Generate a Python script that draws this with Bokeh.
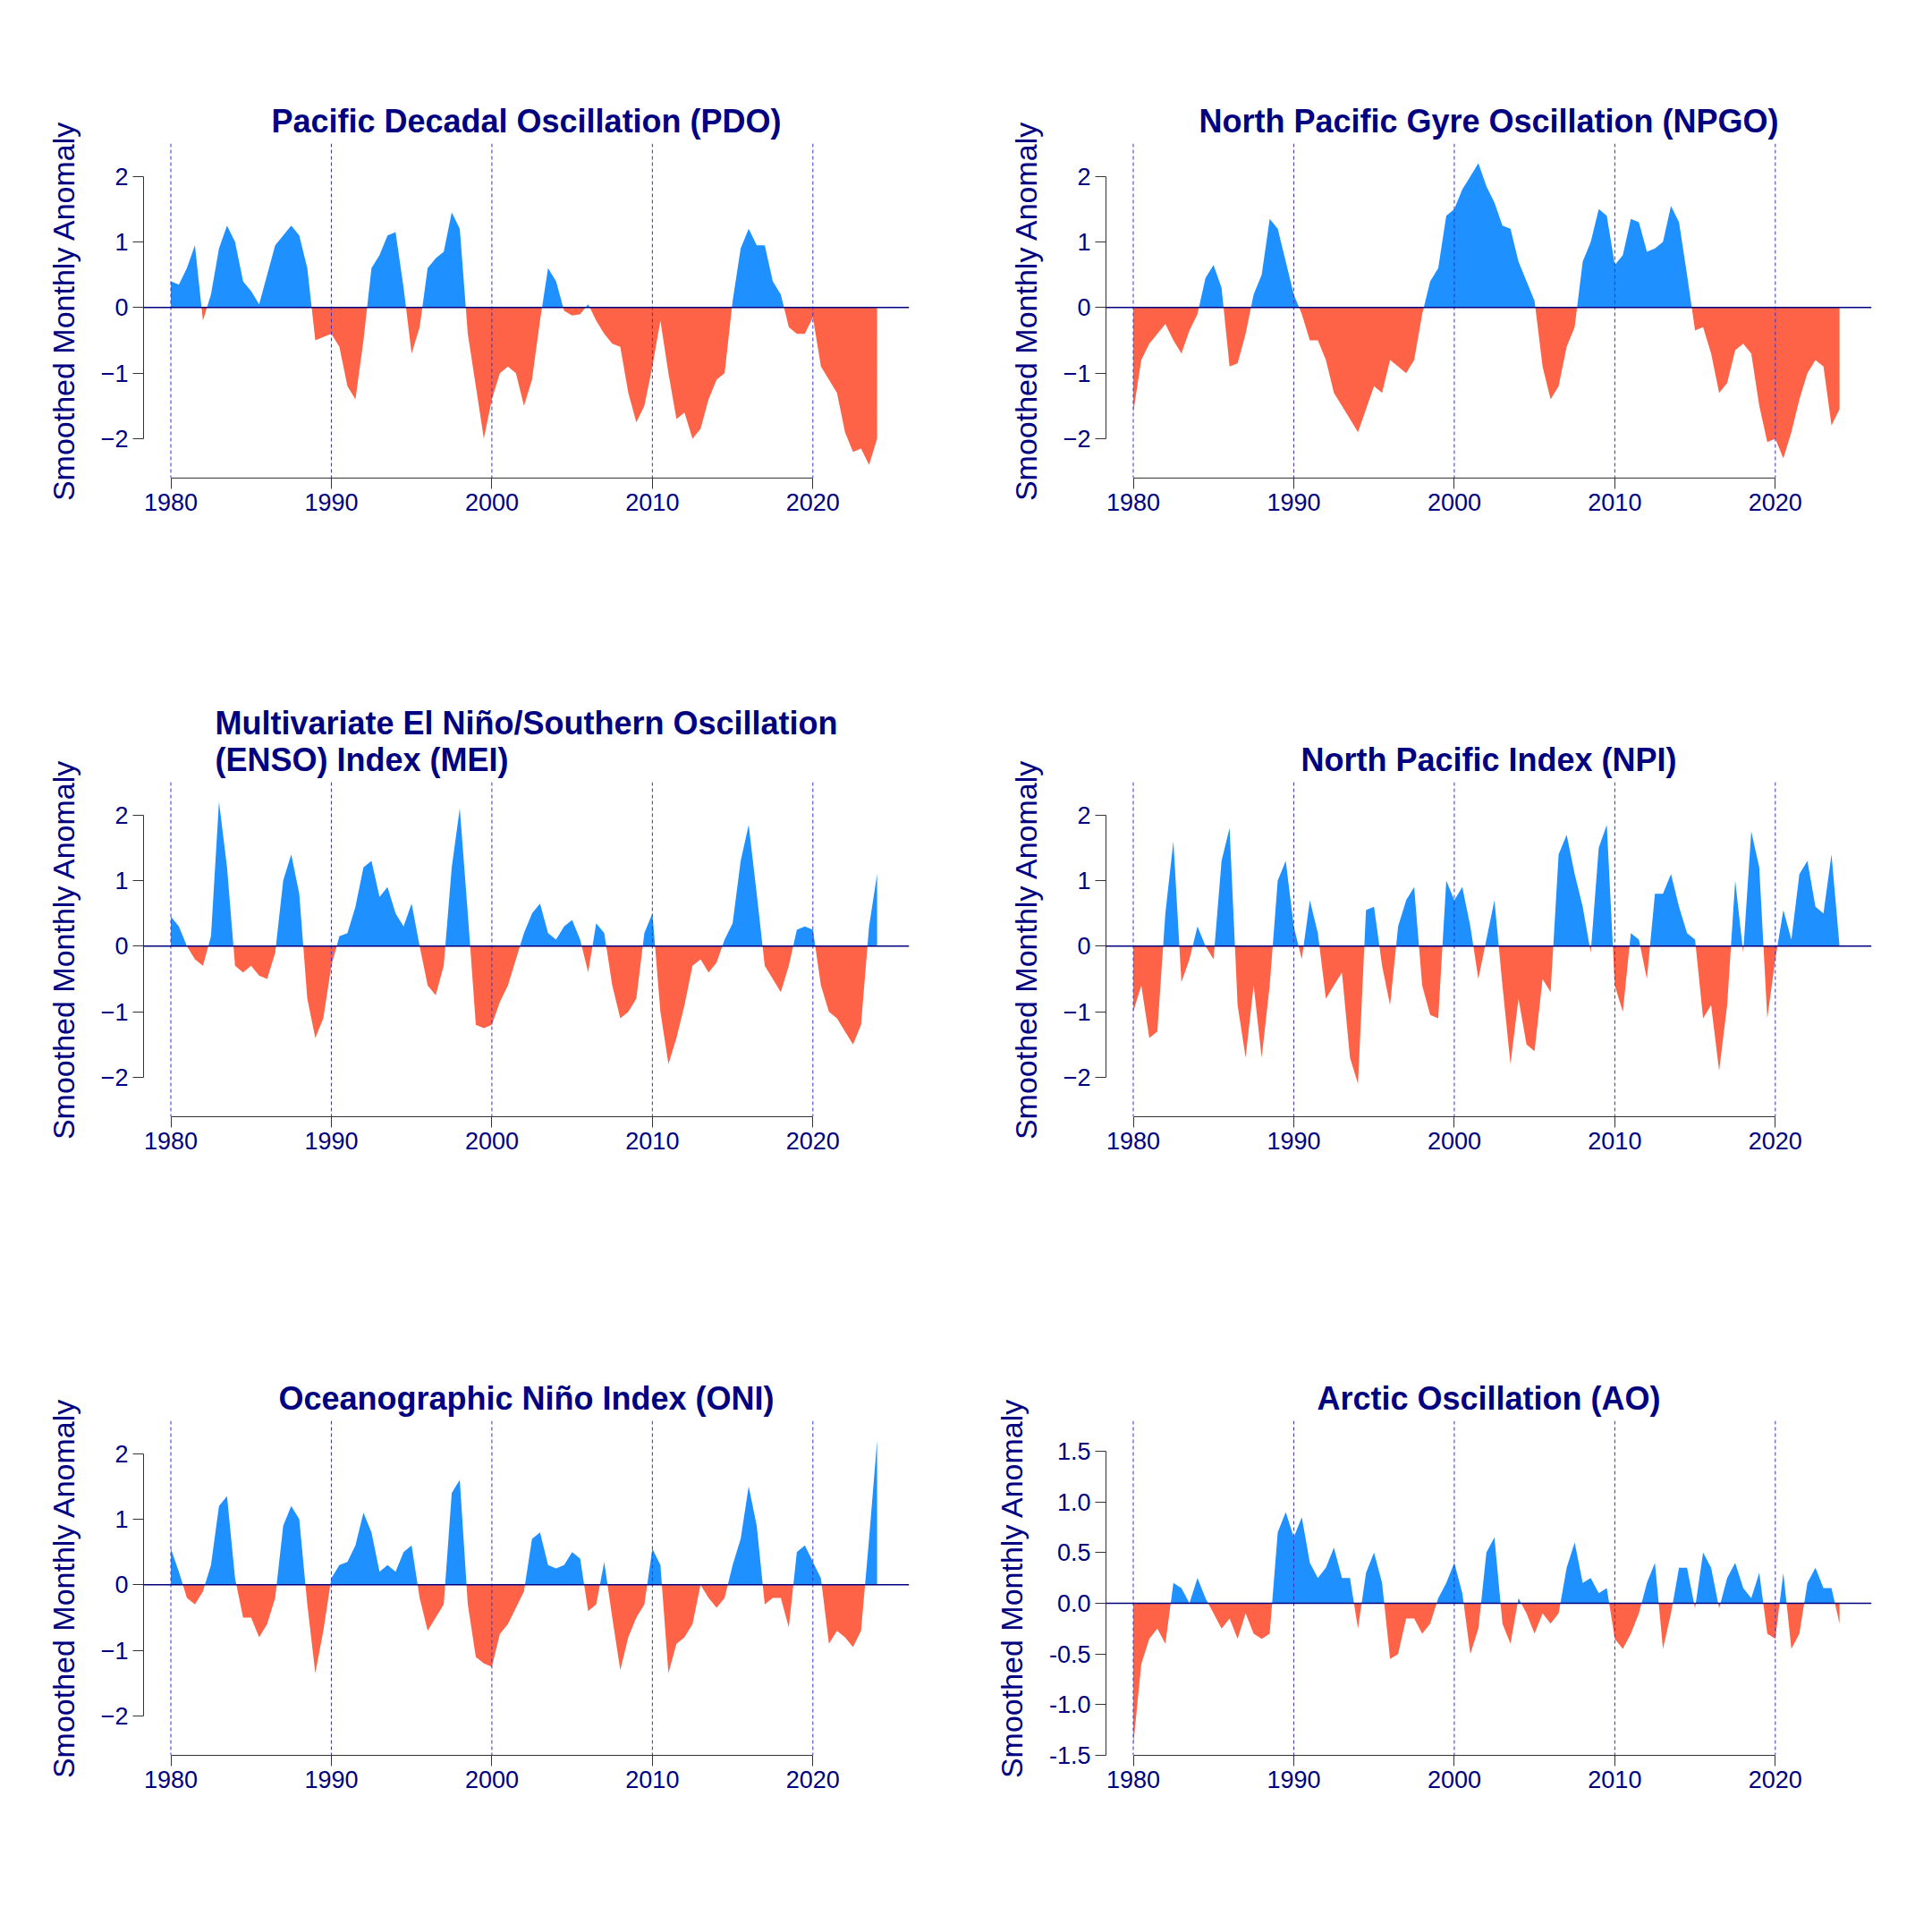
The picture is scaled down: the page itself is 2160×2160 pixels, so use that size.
import numpy as np
from bokeh.plotting import figure
from bokeh.layouts import gridplot
from bokeh.models import Span, FixedTicker, PrintfTickFormatter, Range1d
from bokeh.embed import file_html
from bokeh.resources import INLINE

# half-year samples, 1980.0 .. 2024.0
years = np.arange(1980, 2024.01, 0.5)

pdo = [0.4, 0.35, 0.6, 0.95, -0.2, 0.2, 0.9, 1.25, 1.0, 0.4, 0.25, 0.05, 0.5, 0.95, 1.1, 1.25, 1.1, 0.6,
       -0.5, -0.45, -0.4, -0.6, -1.2, -1.4, -0.5, 0.6, 0.8, 1.1, 1.15, 0.3, -0.7, -0.3, 0.6, 0.75, 0.85, 1.45,
       1.2, -0.4, -1.2, -2.0, -1.4, -1.0, -0.9, -1.0, -1.5, -1.1, -0.2, 0.6, 0.4, -0.05, -0.12, -0.1, 0.05, -0.2,
       -0.4, -0.55, -0.6, -1.3, -1.75, -1.5, -0.9, -0.2, -1.0, -1.7, -1.6, -2.0, -1.85, -1.4, -1.1, -1.0, 0.1, 0.9,
       1.2, 0.95, 0.95, 0.4, 0.2, -0.3, -0.4, -0.4, -0.15, -0.9, -1.1, -1.3, -1.9, -2.2, -2.15, -2.4, -2.0]
npgo = [-1.6, -0.8, -0.55, -0.4, -0.25, -0.5, -0.7, -0.35, -0.1, 0.45, 0.65, 0.3, -0.9, -0.85, -0.4, 0.2, 0.5, 1.35,
        1.2, 0.7, 0.2, -0.1, -0.5, -0.5, -0.8, -1.3, -1.5, -1.7, -1.9, -1.55, -1.2, -1.3, -0.8, -0.9, -1.0, -0.8,
        -0.1, 0.4, 0.6, 1.4, 1.5, 1.8, 2.0, 2.2, 1.85, 1.6, 1.25, 1.2, 0.7, 0.4, 0.1, -0.9, -1.4, -1.2,
        -0.6, -0.3, 0.7, 1.0, 1.5, 1.4, 0.65, 0.8, 1.35, 1.3, 0.85, 0.9, 1.0, 1.55, 1.3, 0.5, -0.35, -0.3,
        -0.7, -1.3, -1.15, -0.65, -0.55, -0.7, -1.5, -2.05, -2.0, -2.3, -1.9, -1.4, -1.0, -0.8, -0.9, -1.8, -1.55]
mei = [0.45, 0.3, 0.0, -0.2, -0.3, 0.15, 2.2, 1.2, -0.3, -0.4, -0.3, -0.45, -0.5, -0.1, 1.0, 1.4, 0.8, -0.8,
       -1.4, -1.1, -0.3, 0.15, 0.2, 0.6, 1.2, 1.3, 0.75, 0.9, 0.5, 0.3, 0.65, 0.0, -0.6, -0.75, -0.3, 1.2,
       2.1, 0.5, -1.2, -1.25, -1.2, -0.85, -0.6, -0.2, 0.2, 0.5, 0.65, 0.2, 0.1, 0.3, 0.4, 0.1, -0.4, 0.35,
       0.2, -0.6, -1.1, -1.0, -0.8, 0.2, 0.5, -1.0, -1.8, -1.4, -0.9, -0.3, -0.2, -0.4, -0.25, 0.1, 0.35, 1.3,
       1.85, 0.8, -0.3, -0.5, -0.7, -0.3, 0.25, 0.3, 0.25, -0.6, -1.0, -1.1, -1.3, -1.5, -1.2, 0.3, 1.1]
npi = [-1.0, -0.6, -1.4, -1.3, 0.5, 1.6, -0.55, -0.2, 0.3, 0.0, -0.2, 1.3, 1.8, -0.9, -1.7, -0.6, -1.7, -0.6,
       1.0, 1.3, 0.3, -0.2, 0.7, 0.2, -0.8, -0.6, -0.4, -1.7, -2.1, 0.55, 0.6, -0.3, -0.9, 0.3, 0.7, 0.9,
       -0.6, -1.05, -1.1, 1.0, 0.7, 0.9, 0.3, -0.5, 0.1, 0.7, -0.6, -1.8, -0.8, -1.5, -1.6, -0.5, -0.7, 1.4,
       1.7, 1.1, 0.6, -0.1, 1.5, 1.85, -0.6, -1.0, 0.2, 0.1, -0.5, 0.8, 0.8, 1.1, 0.6, 0.2, 0.1, -1.1,
       -0.9, -1.9, -0.9, 1.0, -0.1, 1.75, 1.2, -1.1, -0.2, 0.55, 0.1, 1.1, 1.3, 0.6, 0.5, 1.4, 0.0]
oni = [0.55, 0.2, -0.2, -0.3, -0.1, 0.3, 1.2, 1.35, 0.1, -0.5, -0.5, -0.8, -0.6, -0.2, 0.9, 1.2, 1.0, -0.3,
       -1.35, -0.7, 0.1, 0.3, 0.35, 0.6, 1.1, 0.8, 0.2, 0.3, 0.2, 0.5, 0.6, -0.2, -0.7, -0.5, -0.3, 1.4,
       1.6, -0.3, -1.1, -1.2, -1.25, -0.75, -0.6, -0.35, -0.1, 0.7, 0.8, 0.3, 0.25, 0.3, 0.5, 0.4, -0.4, -0.3,
       0.35, -0.5, -1.3, -0.8, -0.5, -0.3, 0.55, 0.3, -1.35, -0.9, -0.8, -0.6, 0.0, -0.2, -0.35, -0.2, 0.3, 0.7,
       1.5, 0.9, -0.3, -0.2, -0.2, -0.65, 0.5, 0.6, 0.35, 0.1, -0.9, -0.7, -0.8, -0.95, -0.7, 0.7, 2.2]
ao = [-1.4, -0.6, -0.35, -0.25, -0.4, 0.2, 0.15, 0.0, 0.25, 0.05, -0.1, -0.25, -0.15, -0.35, -0.1, -0.3, -0.35, -0.3,
      0.7, 0.9, 0.65, 0.85, 0.4, 0.25, 0.35, 0.55, 0.25, 0.25, -0.25, 0.3, 0.5, 0.2, -0.55, -0.5, -0.15, -0.15,
      -0.3, -0.2, 0.05, 0.2, 0.4, 0.1, -0.5, -0.25, 0.5, 0.65, -0.2, -0.4, 0.05, -0.1, -0.3, -0.1, -0.2, -0.1,
      0.35, 0.6, 0.2, 0.25, 0.1, 0.15, -0.35, -0.45, -0.3, -0.1, 0.2, 0.4, -0.45, -0.1, 0.35, 0.35, -0.05, 0.5,
      0.35, -0.05, 0.25, 0.4, 0.15, 0.05, 0.3, -0.3, -0.35, 0.3, -0.45, -0.3, 0.2, 0.35, 0.15, 0.15, -0.2]

titles = ["Pacific Decadal Oscillation (PDO)", "North Pacific Gyre Oscillation (NPGO)",
          "Multivariate El Niño/Southern Oscillation\n(ENSO) Index (MEI)", "North Pacific Index (NPI)",
          "Oceanographic Niño Index (ONI)", "Arctic Oscillation (AO)"]
series = [pdo, npgo, mei, npi, oni, ao]
decades = [1980, 1990, 2000, 2010, 2020]

FONT = "Liberation Sans"
NAVY = "#000080"


def split_zero(x, y):
    xs, ys = [x[0]], [y[0]]
    for i in range(1, len(x)):
        y0, y1 = y[i - 1], y[i]
        if y0 * y1 < 0:
            xc = x[i - 1] + (x[i] - x[i - 1]) * (y0 / (y0 - y1))
            xs.append(xc)
            ys.append(0.0)
        xs.append(x[i])
        ys.append(y1)
    return np.array(xs), np.array(ys)


def panel(title, vals):
    n = min(len(years), len(vals))
    x, y = split_zero(list(years[:n]), list(vals[:n]))
    is_ao = "AO" in title
    yr = (-1.5, 1.8) if is_ao else (-2.6, 2.5)
    p = figure(width=1076, height=714, output_backend="svg", toolbar_location=None,
               x_range=Range1d(1978.3, 2026), y_range=Range1d(*yr),
               min_border_left=160, min_border_right=60, min_border_top=160, min_border_bottom=180,
               y_axis_label="Smoothed Monthly Anomaly")
    p.title.text = title
    p.title.align = "center"
    p.title.text_font = FONT
    p.title.text_font_style = "bold"
    p.title.text_font_size = "36px"
    p.title.text_color = NAVY
    p.outline_line_color = None
    p.grid.visible = False
    p.varea(x=x, y1=0, y2=np.maximum(y, 0), fill_color="#1E90FF")
    p.varea(x=x, y1=0, y2=np.minimum(y, 0), fill_color="#FF6347")
    for d in decades:
        p.add_layout(Span(location=d, dimension="height", line_color="#3333CC",
                          line_dash="4 3", line_width=1))
    p.add_layout(Span(location=0, dimension="width", line_color=NAVY, line_width=1.5))
    p.xaxis.ticker = FixedTicker(ticks=decades)
    p.xaxis.bounds = (1980, 2020)
    if is_ao:
        p.yaxis.ticker = FixedTicker(ticks=[-1.5, -1.0, -0.5, 0.0, 0.5, 1.0, 1.5])
        p.yaxis.formatter = PrintfTickFormatter(format="%.1f")
        p.yaxis.bounds = (-1.5, 1.5)
    else:
        p.yaxis.ticker = FixedTicker(ticks=[-2, -1, 0, 1, 2])
        p.yaxis.bounds = (-2, 2)
    for ax in (p.xaxis, p.yaxis):
        ax.major_label_text_font = FONT
        ax.major_label_text_font_size = "27px"
        ax.major_label_text_color = NAVY
        ax.axis_line_color = "#333333"
        ax.major_tick_line_color = "#333333"
        ax.major_tick_out = 12
        ax.major_tick_in = 0
        ax.minor_tick_line_color = None
    p.yaxis.major_label_orientation = "horizontal"
    p.yaxis.axis_label_text_font = FONT
    p.yaxis.axis_label_text_font_style = "normal"
    p.yaxis.axis_label_text_font_size = "34px"
    p.yaxis.axis_label_text_color = NAVY
    p.yaxis.axis_label_standoff = 20
    return p


figs = [panel(t, s) for t, s in zip(titles, series)]
grid = gridplot([figs[0:2], figs[2:4], figs[4:6]], toolbar_location=None)
open("out.html", "w").write(file_html(grid, INLINE))
